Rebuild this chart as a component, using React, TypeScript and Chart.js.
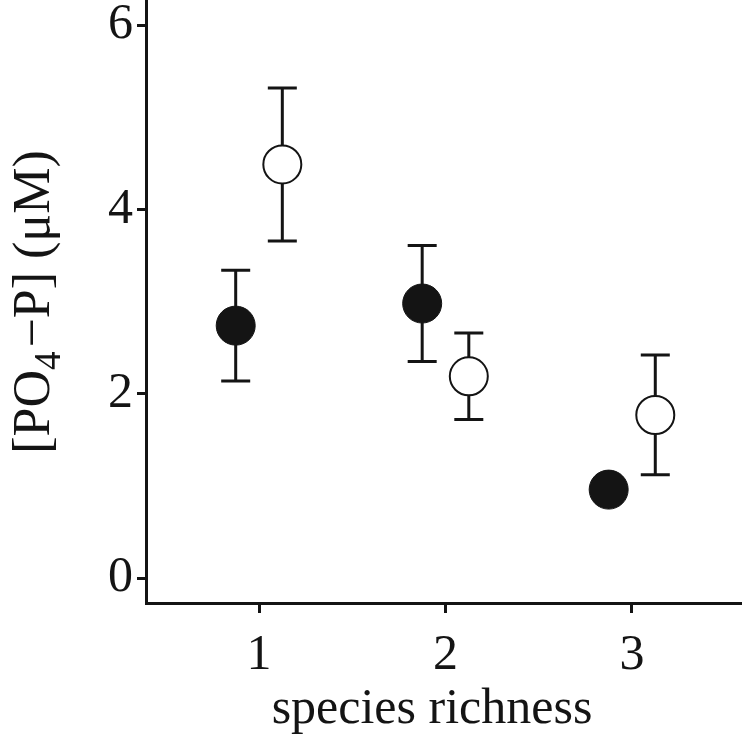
import React, { useEffect, useRef } from "react";
import { Chart, registerables } from "chart.js";

Chart.register(...registerables);

// ---- data ----
const richnessTicks = [1, 2, 3];
const concTicks = [0, 2, 4, 6];
const filledX = [0.875, 1.875, 2.875];
const filledY = [2.74, 2.98, 0.96];
const filledErr = [0.6, 0.63, 0.1];
const openX = [1.125, 2.125, 3.125];
const openY = [4.49, 2.19, 1.77];
const openErr = [0.83, 0.47, 0.65];
const xTitle = "species richness";
const yTitleParts = ["[PO", "4", "\u2212P] (\u03BCM)"];

const FONT = '"Liberation Serif", "Times New Roman", serif';
const INK = "#141414";

const errorBars = {
  id: "errorBars",
  beforeDatasetsDraw(chart: any) {
    const { ctx } = chart;
    const x = chart.scales.x;
    const y = chart.scales.y;
    ctx.save();
    ctx.strokeStyle = INK;
    ctx.lineWidth = 3;
    chart.data.datasets.forEach((ds: any) => {
      const errs: number[] = ds.errors || [];
      ds.data.forEach((p: any, i: number) => {
        const e = errs[i] || 0;
        const px = x.getPixelForValue(p.x);
        const top = y.getPixelForValue(p.y + e);
        const bot = y.getPixelForValue(p.y - e);
        const hw = 14.5;
        ctx.beginPath();
        ctx.moveTo(px, top);
        ctx.lineTo(px, bot);
        ctx.moveTo(px - hw, top);
        ctx.lineTo(px + hw, top);
        ctx.moveTo(px - hw, bot);
        ctx.lineTo(px + hw, bot);
        ctx.stroke();
      });
    });
    ctx.restore();
  },
};

const axisTitles = {
  id: "axisTitles",
  afterDraw(chart: any) {
    const { ctx, chartArea } = chart;
    ctx.save();
    ctx.fillStyle = INK;
    // x title
    ctx.font = `50px ${FONT}`;
    ctx.textAlign = "center";
    ctx.textBaseline = "alphabetic";
    ctx.fillText(xTitle, chartArea.left + 286, chartArea.bottom + 120);
    // y title (rotated, with subscript)
    const big = `52px ${FONT}`;
    const small = `37px ${FONT}`;
    ctx.font = big;
    const w0 = ctx.measureText(yTitleParts[0]).width;
    const w2 = ctx.measureText(yTitleParts[2]).width;
    ctx.font = small;
    const w1 = ctx.measureText(yTitleParts[1]).width;
    const total = w0 + w1 + w2 + 4;
    ctx.translate(chartArea.left - 97, chartArea.top + 302);
    ctx.rotate(-Math.PI / 2);
    ctx.textAlign = "left";
    let u = -total / 2;
    ctx.font = big;
    ctx.fillText(yTitleParts[0], u, 0);
    u += w0;
    ctx.font = small;
    ctx.fillText(yTitleParts[1], u, 11);
    u += w1 + 4;
    ctx.font = big;
    ctx.fillText(yTitleParts[2], u, 0);
    ctx.restore();
  },
};

export default function App() {
  const ref = useRef<HTMLCanvasElement | null>(null);

  useEffect(() => {
    document.body.style.margin = "0";
    const canvas = ref.current;
    if (!canvas) return;
    const chart = new Chart(canvas, {
      type: "scatter",
      data: {
        datasets: [
          {
            label: "filled",
            data: filledX.map((x, i) => ({ x, y: filledY[i] })),
            errors: filledErr,
            pointRadius: 19.5,
            pointHoverRadius: 19.5,
            backgroundColor: INK,
            borderColor: INK,
            borderWidth: 1,
          } as any,
          {
            label: "open",
            data: openX.map((x, i) => ({ x, y: openY[i] })),
            errors: openErr,
            pointRadius: 19,
            pointHoverRadius: 19,
            backgroundColor: "#ffffff",
            borderColor: INK,
            borderWidth: 2,
          } as any,
        ],
      },
      options: {
        animation: false,
        responsive: false,
        maintainAspectRatio: false,
        layout: { padding: 0, autoPadding: false },
        plugins: {
          legend: { display: false },
          tooltip: { enabled: false },
          title: { display: false },
        },
        scales: {
          x: {
            type: "linear",
            min: 0.394,
            max: 3.59,
            afterBuildTicks: (axis: any) => {
              axis.ticks = richnessTicks.map((v) => ({ value: v }));
            },
            afterFit: (axis: any) => {
              axis.height = 137;
              axis.paddingLeft = 0;
              axis.paddingRight = 0;
              axis.paddingTop = 0;
              axis.paddingBottom = 0;
            },
            grid: {
              display: true,
              drawOnChartArea: false,
              drawTicks: true,
              tickLength: 10,
              tickWidth: 3,
              tickColor: INK,
            },
            border: { display: true, width: 3, color: INK },
            ticks: {
              color: INK,
              padding: 13,
              maxRotation: 0,
              font: { family: FONT, size: 50 },
            },
          },
          y: {
            type: "linear",
            min: -0.271,
            max: 6.275,
            afterBuildTicks: (axis: any) => {
              axis.ticks = concTicks.map((v) => ({ value: v }));
            },
            afterFit: (axis: any) => {
              axis.width = 146;
              axis.paddingLeft = 0;
              axis.paddingRight = 0;
              axis.paddingTop = 0;
              axis.paddingBottom = 0;
            },
            grid: {
              display: true,
              drawOnChartArea: false,
              drawTicks: true,
              tickLength: 9,
              tickWidth: 3,
              tickColor: INK,
            },
            border: { display: true, width: 3, color: INK },
            ticks: {
              color: INK,
              padding: 4,
              font: { family: FONT, size: 50 },
            },
          },
        },
      } as any,
      plugins: [errorBars, axisTitles],
    });
    return () => chart.destroy();
  }, []);

  return (
    <div style={{ position: "absolute", left: 0, top: 0, width: 742, height: 740 }}>
      <canvas ref={ref} width={742} height={740} style={{ width: 742, height: 740, display: "block" }} />
    </div>
  );
}
